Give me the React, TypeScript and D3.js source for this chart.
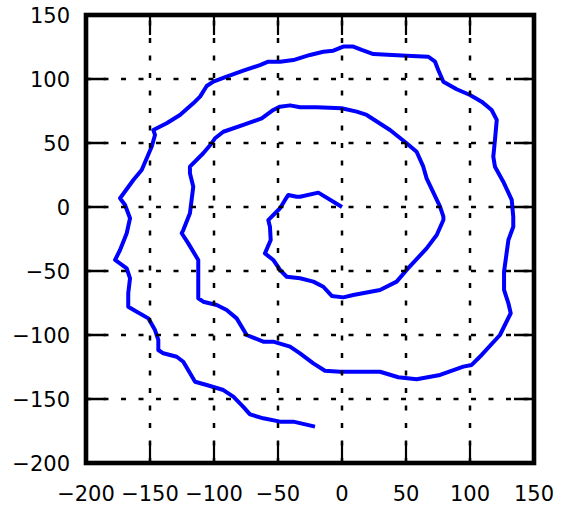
import React from "react";
import * as d3 from "d3";

const xTicks = [-200, -150, -100, -50, 0, 50, 100, 150];
const yTicks = [-200, -150, -100, -50, 0, 50, 100, 150];

const spiralX = [
  0, -18.5, -32.8, -35.4, -41.9, -44.5, -48.4, -57.6, -56.3, -55.7, -60.2, -53.7, -48.4, -43.2, -32.8,
  -22.4, -14.6, -8.0, 1.0, 8.8, 29.7, 42.7, 50.5, 66.1, 74, 79.2, 79.2, 76.6, 66.1, 63.5, 58.3, 50,
  37.5, 19.3, 11.5, -0.3, -19.8, -32.8, -40.6, -48.4, -53.7, -62.7, -77.1, -92.7, -99.2, -101.8,
  -108.4, -118.8, -118.8, -116.2, -118.8, -124, -125.2, -120.1, -112.3, -112.3, -112.3, -108.4, -97.9,
  -90.1, -82.3, -74.5, -61.5, -53.7, -40.6, -32.8, -22.4, -13.3, -1.6, 29.7, 44, 58.3, 76.6, 94.8,
  101.3, 109.1, 123.4, 131.8, 130, 126.6, 126.6, 130, 133.8, 133.8, 132.6, 126, 119.5, 118.2, 119.5,
  120.9, 116.9, 109.1, 100, 89.6, 79.2, 75.2, 72.7, 67.5, 50.5, 24.5, 15.4, 8.8, 1, -6.8, -14.6, -25,
  -38, -48.4, -57.6, -64.1, -77.1, -90.1, -100.5, -105.7, -110.9, -116.2, -126.6, -137, -147.4,
  -146.1, -148.7, -156.5, -163, -173.4, -169.5, -165.6, -168.2, -173.4, -177.3, -168.2, -165.6, -167,
  -167, -161.7, -151.3, -146.1, -143.5, -143.5, -139.6, -129.1, -124, -114.8, -105.7, -92.7, -84.9,
  -77.1, -71.9, -61.5, -48.4, -38, -21.1,
];
const spiralY = [
  0, 11.2, 8.0, 8.0, 9.4, 5.5, -1.0, -10.2, -15.4, -25.8, -36.2, -41.4, -49.2, -54.5, -55.7,
  -58.3, -62.3, -69.5, -70.6, -68.8, -64.8, -58.3, -49.2, -32.3, -21.9, -10.2, -7.6, 0.3, 22.4, 31.5,
  43.2, 50.2, 60.2, 71.9, 74.5, 77.1, 77.9, 77.9, 79.4, 78.4, 75.8, 69.3, 64.1, 58.8, 53.7, 49.8, 42.0,
  31.5, 26.3, 15.9, -4.9, -18, -20.5, -28.4, -41.4, -57, -71.3, -74, -76.6, -80.5, -87, -100, -105.2,
  -105.2, -109.1, -114.3, -122.2, -127.9, -128.7, -128.7, -133, -134.6, -131.2, -124.7, -123.4,
  -115.6, -100, -83, -75.2, -64.8, -50.5, -25.8, -15.4, -7.6, 5.5, 19.8, 31.5, 39.3, 52.3, 68, 75.8,
  82.3, 87.5, 92, 97.9, 107, 113.5, 117.4, 118.2, 119.5, 122.7, 125.3, 125.3, 122.1, 121.3, 118.8,
  114.8, 113.5, 113.5, 110.9, 106.5, 101.8, 97.9, 94.5, 86.2, 81, 71.9, 65.4, 60.2, 56.3, 47.1, 28.9,
  21.1, 6.8, 1.6, -8.8, -20.5, -33.6, -41.4, -47.9, -55.7, -67.4, -77.9, -81, -87, -96.1, -103.9,
  -111.7, -114.3, -117, -120.9, -136.5, -139.1, -143, -148.2, -156.1, -162, -165.1, -167.7, -167.7,
  -171.6,
];

const W = 562;
const H = 507;
const L = 86, R = 534, T = 15, B = 463;
const FS = 21;
const FONT = "DejaVu Sans, sans-serif";

export default function App() {
  const x = d3.scaleLinear().domain([-200, 150]).range([L, R]);
  const y = d3.scaleLinear().domain([-200, 150]).range([B, T]);
  const pts: [number, number][] = spiralX.map((v, i) => [v, spiralY[i]]);
  const line = d3
    .line<[number, number]>()
    .x((d) => x(d[0]))
    .y((d) => y(d[1]));
  const tickLen = 20;
  return (
    <svg
      width={W}
      height={H}
      style={{ position: "absolute", left: 0, top: 0, display: "block", background: "#fff" }}
    >
      <rect x={0} y={0} width={W} height={H} fill="#fff" />
      <path
        d={line(pts) || ""}
        fill="none"
        stroke="#0000ff"
        strokeWidth={4}
        strokeLinejoin="round"
        strokeLinecap="butt"
      />
      {xTicks.map((t) => (
        <line
          key={"gx" + t}
          x1={x(t)}
          x2={x(t)}
          y1={B}
          y2={T}
          stroke="#000"
          strokeWidth={2.5}
          strokeDasharray="5,12.5"
        />
      ))}
      {yTicks.map((t) => (
        <line
          key={"gy" + t}
          x1={L}
          x2={R}
          y1={y(t)}
          y2={y(t)}
          stroke="#000"
          strokeWidth={2.5}
          strokeDasharray="5,12.5"
        />
      ))}
      {xTicks.map((t) => (
        <g key={"tx" + t}>
          <line x1={x(t)} x2={x(t)} y1={B} y2={B - tickLen} stroke="#000" strokeWidth={2.2} />
          <line x1={x(t)} x2={x(t)} y1={T} y2={T + tickLen} stroke="#000" strokeWidth={2.2} />
          <text
            x={x(t)}
            y={501}
            textAnchor="middle"
            fontFamily={FONT}
            fontSize={FS}
            fill="#000"
          >
            {t < 0 ? "\u2212" + Math.abs(t) : String(t)}
          </text>
        </g>
      ))}
      {yTicks.map((t) => (
        <g key={"ty" + t}>
          <line x1={L} x2={L + tickLen} y1={y(t)} y2={y(t)} stroke="#000" strokeWidth={2.5} />
          <line x1={R} x2={R - tickLen} y1={y(t)} y2={y(t)} stroke="#000" strokeWidth={2.5} />
          <text
            x={70}
            y={y(t) + 0.365 * FS}
            textAnchor="end"
            fontFamily={FONT}
            fontSize={FS}
            fill="#000"
          >
            {t < 0 ? "\u2212" + Math.abs(t) : String(t)}
          </text>
        </g>
      ))}
      <rect x={L} y={T} width={R - L} height={B - T} fill="none" stroke="#000" strokeWidth={4.6} />
    </svg>
  );
}
